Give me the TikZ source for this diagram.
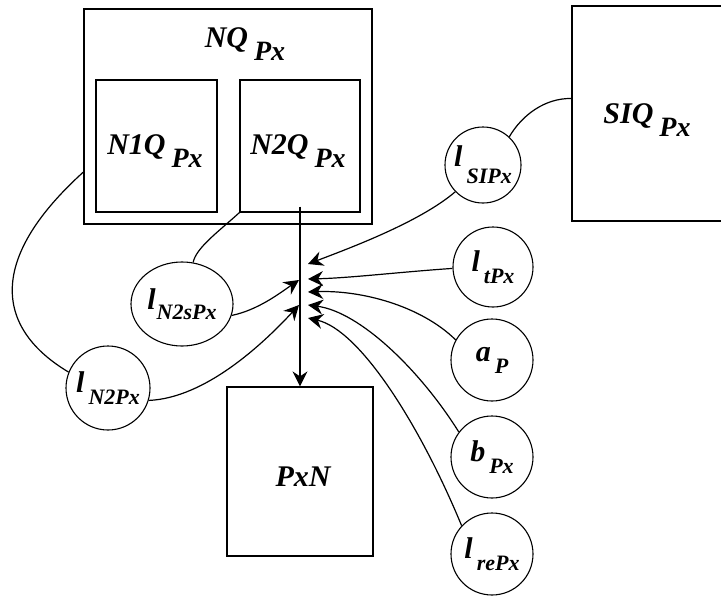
\documentclass[tikz,border=0pt]{standalone}
\usepackage{fontspec}
\setmainfont{Liberation Serif}
\usetikzlibrary{arrows.meta,shapes.geometric}
\newcommand{\mainsz}{\fontsize{30}{34}\selectfont}
\newcommand{\bsubsz}{\fontsize{28}{30}\selectfont}
\newcommand{\subsz}{\fontsize{22}{24}\selectfont}
\newcommand{\BoxLab}[2]{{\mainsz #1}\kern6pt\raisebox{-13pt}{\bsubsz #2}}
\newcommand{\CircLab}[3][12pt]{{\mainsz #2}\kern4pt\raisebox{-#1}{\subsz #3}}
\begin{document}
\begin{tikzpicture}[x=1pt,y=-1pt,
  every node/.style={font=\bfseries\itshape},
  boxn/.style={draw, line width=1.2pt, inner sep=0pt, rectangle},
  circn/.style={draw, circle, line width=1.1pt, inner sep=0pt},
  conn/.style={line width=1.2pt},
  arr/.style={conn, -{Stealth[length=15pt,width=15pt,inset=5pt]}}]
\useasboundingbox (0,0) rectangle (721,597);
% boxes
\node[boxn, minimum width=288pt, minimum height=215pt] (nq) at (228,116.5) {};
\node[boxn, minimum width=121pt, minimum height=132pt] (n1q) at (156.5,146) {};
\node[boxn, minimum width=120pt, minimum height=132pt] (n2q) at (300,146) {};
\node[boxn, minimum width=158pt, minimum height=215pt] (siq) at (651,113.5) {};
\node[boxn, minimum width=146pt, minimum height=169pt] (pxn) at (300,471.5) {};
% box labels
\node (nqlab) at (245,44) {\BoxLab{NQ}{Px}};
\node (n1qlab) at (155,151) {\BoxLab{N1Q}{Px}};
\node (n2qlab) at (298,151) {\BoxLab{N2Q}{Px}};
\node (siqlab) at (647,120) {\BoxLab{SIQ}{Px}};
\node (pxnlab) at (303,477) {\mainsz PxN};
% circles
\node[circn, minimum size=76pt] (lsip) at (483,165) {\CircLab[17pt]{l}{SIPx}};
\node[circn, minimum size=80pt] (ltpx) at (493,267) {\CircLab{l}{tPx}};
\node[circn, minimum size=82pt] (ap) at (492,360) {\CircLab{a}{P}};
\node[circn, minimum size=82pt] (bpx) at (492,457) {\CircLab{b}{Px}};
\node[circn, minimum size=82pt] (lrepx) at (492,554) {\CircLab{l}{rePx}};
\node[circn, minimum size=84pt] (ln2px) at (108,388) {\CircLab{l}{N2Px}};
\node[draw, ellipse, line width=1.1pt, inner sep=0pt, minimum width=102pt, minimum height=84pt] (ln2spx) at (182,304) {{\mainsz l}\kern1pt\raisebox{-10pt}{\subsz N2sPx}};
% tip coordinates
\coordinate (s1) at (299,280);
\coordinate (s2) at (299,305);
\coordinate (t1) at (308,264);
\coordinate (t2) at (308,279);
\coordinate (t3) at (308,292);
\coordinate (t4) at (308,305);
\coordinate (t5) at (308,318);
% plain connectors
\draw[conn] (nq.201) .. controls (-16,262) and (-2,330) .. (ln2px.158);
\draw[conn] (n2q.south west) .. controls (218,232) and (196,248) .. (ln2spx.75);
\draw[conn] ([yshift=15pt]siq.west) .. controls (545,98) and (522,115) .. (lsip.47);
% main arrow
\draw[conn, -{Stealth[length=15pt,width=15pt,inset=5pt]}] ([yshift=6pt]n2q.south) -- (pxn.north);
% left arrows
\draw[arr] (ln2spx.-13) .. controls (258,310) and (280,293) .. (s1);
\draw[arr] (ln2px.-17) .. controls (205,398) and (262,345) .. (s2);
% right arrows
\draw[arr] (lsip.-136) .. controls (420,222) and (350,248) .. (t1);
\draw[arr] (ltpx.182) .. controls (400,272) and (350,278) .. (t2);
\draw[arr] (ap.151) .. controls (420,305) and (360,290) .. (t3);
\draw[arr] (bpx.143) .. controls (420,370) and (360,312) .. (t4);
\draw[arr] (lrepx.137) .. controls (420,425) and (360,330) .. (t5);
\end{tikzpicture}
\end{document}
